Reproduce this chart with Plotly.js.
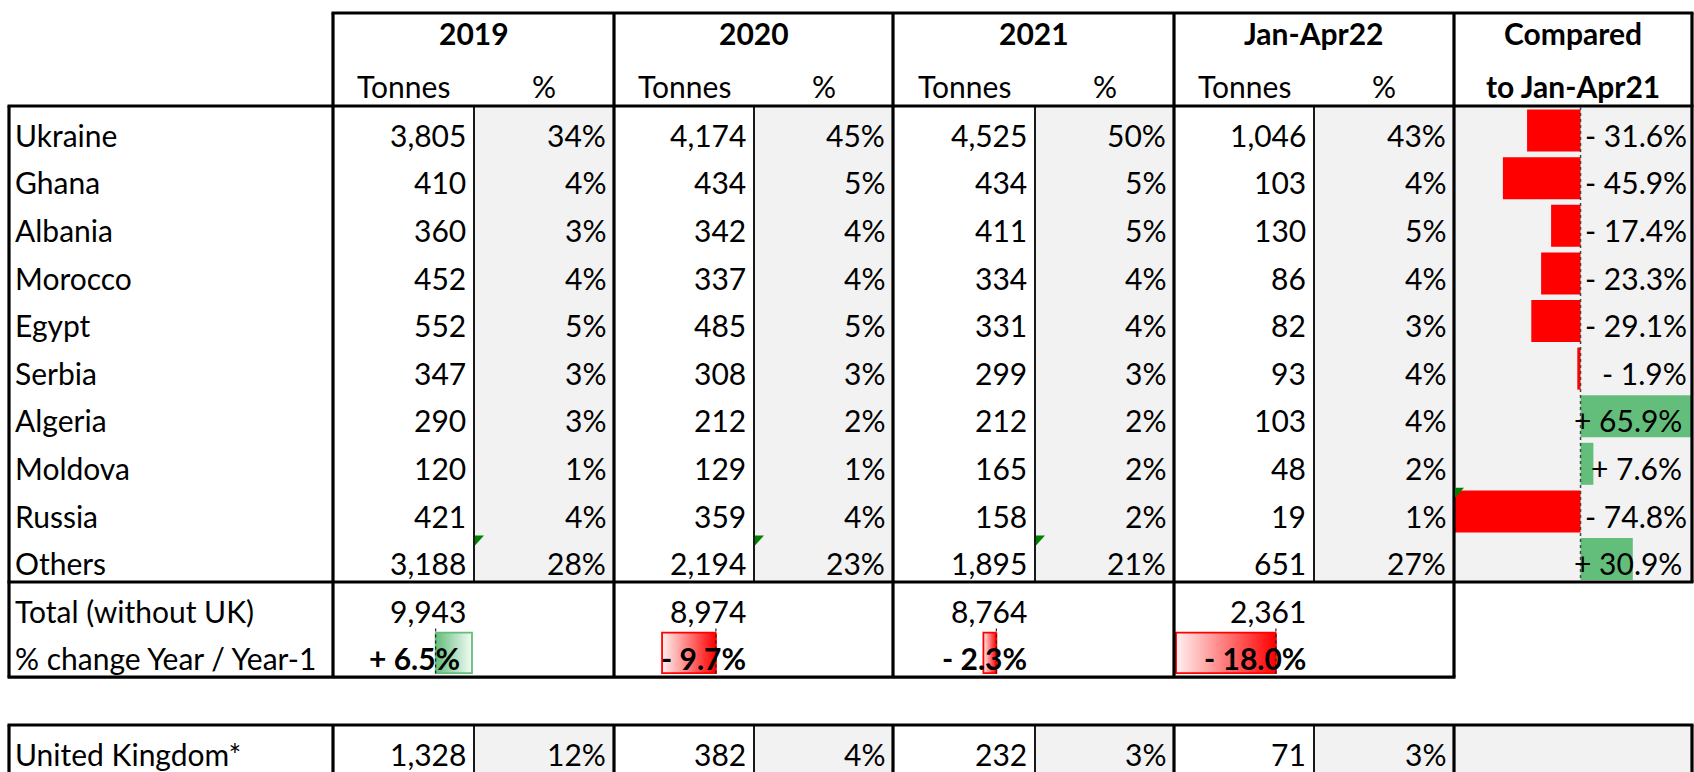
<!DOCTYPE html>
<html>
<head>
<meta charset="utf-8">
<script src="https://cdn.plot.ly/plotly-3.0.1.min.js"></script>
<style>
  html, body { margin: 0; padding: 0; background: #fff; }
  #chart { width: 1694px; height: 772px; }
</style>
</head>
<body>
<div id="chart"></div>
<script>
// ---- data ----
const countries = ['Ukraine', 'Ghana', 'Albania', 'Morocco', 'Egypt', 'Serbia', 'Algeria', 'Moldova', 'Russia', 'Others'];
const periods = ['2019', '2020', '2021', 'Jan-Apr22'];
const tonnes2019 = [3805, 410, 360, 452, 552, 347, 290, 120, 421, 3188];
const share2019 = [34, 4, 3, 4, 5, 3, 3, 1, 4, 28];
const tonnes2020 = [4174, 434, 342, 337, 485, 308, 212, 129, 359, 2194];
const share2020 = [45, 5, 4, 4, 5, 3, 2, 1, 4, 23];
const tonnes2021 = [4525, 434, 411, 334, 331, 299, 212, 165, 158, 1895];
const share2021 = [50, 5, 5, 4, 4, 3, 2, 2, 2, 21];
const tonnesJanApr22 = [1046, 103, 130, 86, 82, 93, 103, 48, 19, 651];
const shareJanApr22 = [43, 4, 5, 4, 3, 4, 4, 2, 1, 27];
const changeVsJanApr21 = [-31.6, -45.9, -17.4, -23.3, -29.1, -1.9, 65.9, 7.6, -74.8, 30.9];
const totals = [9943, 8974, 8764, 2361];
const totalChange = [6.5, -9.7, -2.3, -18.0];
const ukTonnes = [1328, 382, 232, 71];
const ukShare = [12, 4, 3, 3];

const tonnesByPeriod = [tonnes2019, tonnes2020, tonnes2021, tonnesJanApr22];
const shareByPeriod = [share2019, share2020, share2021, shareJanApr22];

// ---- grid (pixels) ----
const W = 1694, H = 772;
const leftX = 9;
const groupL = [333, 614, 893, 1174];
const splitX = [474, 754, 1035, 1314];
const cmpL = 1454, cmpR = 1692;
const headTop = 13, headBot = 106, rowH = 47.6;
const dataBot = headBot + rowH * countries.length;
const totBot = dataBot + 2 * rowH;
const ukTop = 725;
const textDy = 5;

const FONT = 'Lato, Calibri, Carlito, sans-serif';
const FSIZE = 30;
const RED = '#FF0000', GREEN = '#63BE7B', GRAY = '#F2F2F2';

const fmtInt = v => v.toLocaleString('en-US');
const fmtChg = v => (v < 0 ? '- ' : '+ ') + Math.abs(v).toFixed(1) + '%';
const rowMid = i => headBot + rowH * (i + 0.5);

const annotations = [];
function txt(x, y, text, anchor) {
  annotations.push({
    x: x, y: y, xref: 'x', yref: 'y', text: text, showarrow: false,
    xanchor: anchor, yanchor: 'middle',
    font: {family: FONT, size: FSIZE, color: '#000'}
  });
}

// header
periods.forEach((p, k) => {
  const right = k < 3 ? groupL[k + 1] : cmpL;
  txt((groupL[k] + right) / 2, 33, '<b>' + p + '</b>', 'center');
  txt((groupL[k] + splitX[k]) / 2, 86, 'Tonnes', 'center');
  txt((splitX[k] + right) / 2, 86, '%', 'center');
});
txt((cmpL + cmpR) / 2, 33, '<b>Compared</b>', 'center');
txt((cmpL + cmpR) / 2, 86, '<b>to Jan-Apr21</b>', 'center');

// body
countries.forEach((c, i) => {
  const y = rowMid(i) + textDy;
  txt(13, y, c, 'left');
  for (let k = 0; k < 4; k++) {
    const right = k < 3 ? groupL[k + 1] : cmpL;
    txt(splitX[k] - 6, y, fmtInt(tonnesByPeriod[k][i]), 'right');
    txt(right - 6, y, shareByPeriod[k][i] + '%', 'right');
  }
  const v = changeVsJanApr21[i];
  txt(cmpR - (v < 0 ? 3 : 8), y, fmtChg(v), 'right');
});

// totals
txt(13, rowMid(10) + textDy, 'Total (without UK)', 'left');
txt(13, rowMid(11) + textDy, '% change Year / Year-1', 'left');
totals.forEach((t, k) => {
  txt(splitX[k] - 6, rowMid(10) + textDy, fmtInt(t), 'right');
  const v = totalChange[k];
  txt(splitX[k] - (v < 0 ? 6 : 12), rowMid(11) + textDy, '<b>' + fmtChg(v) + '</b>', 'right');
});

// UK
const ukMid = ukTop + rowH / 2 + textDy;
txt(13, ukMid, 'United Kingdom*', 'left');
ukTonnes.forEach((t, k) => {
  const right = k < 3 ? groupL[k + 1] : cmpL;
  txt(splitX[k] - 6, ukMid, fmtInt(t), 'right');
  txt(right - 6, ukMid, ukShare[k] + '%', 'right');
});

// ---- shapes: fills and borders ----
const shapes = [];
function rect(x0, y0, x1, y1, color) {
  shapes.push({type: 'rect', xref: 'x', yref: 'y', x0: x0, x1: x1, y0: y0, y1: y1,
    fillcolor: color, line: {width: 0}, layer: 'below'});
}
function line(x0, y0, x1, y1, w) {
  shapes.push({type: 'line', xref: 'x', yref: 'y', x0: x0, x1: x1, y0: y0, y1: y1,
    line: {color: '#000', width: w}, layer: 'above'});
}
for (let k = 0; k < 4; k++) {
  const right = k < 3 ? groupL[k + 1] : cmpL;
  rect(splitX[k], headBot, right, dataBot, GRAY);
  rect(splitX[k], ukTop, right, H + 2, GRAY);
}
rect(cmpL, headBot, cmpR, dataBot, GRAY);
rect(cmpL, ukTop, cmpR, H + 2, GRAY);

const TH = 3.2, TN = 1.8;
// horizontal
line(groupL[0] - 1.5, headTop, cmpR + 1.5, headTop, TH);
line(leftX - 1.5, headBot, cmpR + 1.5, headBot, TH);
line(leftX - 1.5, dataBot, cmpR + 1.5, dataBot, TH);
line(leftX - 1.5, totBot, cmpL + 1.5, totBot, TH);
line(leftX - 1.5, ukTop, cmpR + 1.5, ukTop, TH);
// vertical
line(leftX, headBot, leftX, totBot, TH);
line(leftX, ukTop, leftX, H + 2, TH);
groupL.concat([cmpL]).forEach(x => {
  line(x, headTop, x, totBot, TH);
  line(x, ukTop, x, H + 2, TH);
});
line(cmpR, headTop, cmpR, dataBot, TH);
line(cmpR, ukTop, cmpR, H + 2, TH);
splitX.forEach(x => {
  line(x, headBot, x, dataBot, TN);
  line(x, ukTop, x, H + 2, TN);
});

// green error-indicator triangles
function tri(x, y) {
  shapes.push({type: 'path', xref: 'x', yref: 'y',
    path: `M ${x + 1} ${y + 1} L ${x + 10} ${y + 1} L ${x + 1} ${y + 11} Z`,
    fillcolor: '#008000', line: {width: 0}, layer: 'above'});
}
for (let k = 0; k < 3; k++) tri(splitX[k], headBot + rowH * 9);
tri(cmpL, headBot + rowH * 8);

// ---- traces ----
const traces = [];
// base invisible trace for pixel axes
traces.push({x: [0, W], y: [0, H], mode: 'markers', marker: {opacity: 0}, hoverinfo: 'skip', showlegend: false});

// compared-to-Jan-Apr21 data bars
traces.push({
  type: 'bar', orientation: 'h', xaxis: 'x2', yaxis: 'y',
  x: changeVsJanApr21, y: countries.map((c, i) => rowMid(i) + 0.8),
  width: 42, base: 0,
  marker: {color: changeVsJanApr21.map(v => v < 0 ? RED : GREEN), line: {width: 0}},
  hoverinfo: 'skip', showlegend: false
});
shapes.push({type: 'line', xref: 'x2', yref: 'y', x0: 0, x1: 0, y0: headBot + 1, y1: dataBot - 1,
  line: {color: '#444', width: 1.5, dash: 'dot'}, layer: 'above'});

// % change gradient bars on their own axes
const chgTop = dataBot + rowH + 3, chgBot = totBot - 4;
totalChange.forEach((v, k) => {
  const ax = 'x' + (k + 3);
  const neg = v < 0;
  const col = neg ? RED : GREEN;
  const light = neg ? '#FFF2F2' : '#F4FBF6';
  traces.push({
    type: 'scatter', mode: 'lines', xaxis: ax, yaxis: 'y',
    x: [0, v, v, 0, 0], y: [chgTop, chgTop, chgBot, chgBot, chgTop],
    fill: 'toself',
    fillgradient: {type: 'horizontal',
      colorscale: neg ? [[0, light], [1, col]] : [[0, col], [1, light]]},
    line: {color: col, width: 1.8},
    hoverinfo: 'skip', showlegend: false
  });
  shapes.push({type: 'line', xref: ax, yref: 'y', x0: 0, x1: 0, y0: dataBot + rowH - 1, y1: totBot - 2,
    line: {color: '#222', width: 1.2, dash: 'dot'}, layer: 'above'});
});

// ---- layout ----
const hidden = {visible: false, fixedrange: true};
const layout = {
  width: W, height: H,
  margin: {l: 0, r: 0, t: 0, b: 0},
  paper_bgcolor: '#fff', plot_bgcolor: 'rgba(0,0,0,0)',
  showlegend: false,
  xaxis: Object.assign({range: [0, W], domain: [0, 1]}, hidden),
  yaxis: Object.assign({range: [H, 0], domain: [0, 1]}, hidden),
  xaxis2: Object.assign({range: [-74.8, 65.9], domain: [cmpL / W, cmpR / W], anchor: 'y'}, hidden),
  shapes: shapes,
  annotations: annotations
};
const chgRange = [-18.36, 6.86];
for (let k = 0; k < 4; k++) {
  layout['xaxis' + (k + 3)] = Object.assign({range: chgRange,
    domain: [groupL[k] / W, splitX[k] / W], anchor: 'y'}, hidden);
}

Plotly.newPlot('chart', traces, layout, {staticPlot: true, displayModeBar: false});
</script>
</body>
</html>
